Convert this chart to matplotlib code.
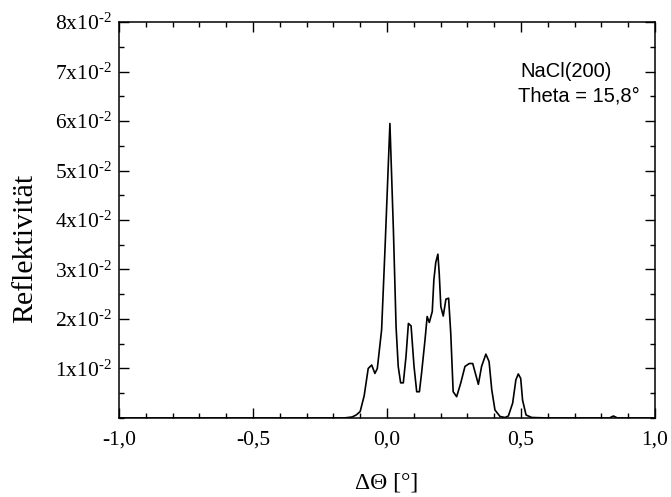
import matplotlib
matplotlib.use("Agg")
import matplotlib.pyplot as plt
from matplotlib.ticker import MultipleLocator, FuncFormatter

# Rocking curve NaCl(200)
dtheta = [
    -1.0, -0.5, -0.16, -0.13, -0.115, -0.10, -0.085, -0.07, -0.057, -0.045,
    -0.036, -0.020, -0.007, 0.011, 0.024, 0.034, 0.042, 0.051, 0.061, 0.071,
    0.080, 0.090, 0.101, 0.111, 0.121, 0.129, 0.142, 0.150, 0.158, 0.169,
    0.175, 0.182, 0.190, 0.195, 0.201, 0.210, 0.220, 0.230, 0.238, 0.247,
    0.260, 0.275, 0.291, 0.307, 0.320, 0.341, 0.353, 0.369, 0.381, 0.391,
    0.403, 0.422, 0.440, 0.453, 0.469, 0.481, 0.490, 0.499, 0.506, 0.519,
    0.540, 0.60, 0.83, 0.845, 0.86, 1.0,
]
refl = [
    0.0, 0.0, 0.0, 0.0002, 0.0006, 0.0013, 0.0045, 0.0100, 0.0107, 0.0090,
    0.0100, 0.0178, 0.0346, 0.0595, 0.0380, 0.0184, 0.0104, 0.0071, 0.0071, 0.0124,
    0.0191, 0.0186, 0.0104, 0.0053, 0.0053, 0.0090, 0.0158, 0.0205, 0.0193, 0.0215,
    0.0279, 0.0314, 0.0331, 0.0292, 0.0225, 0.0206, 0.0240, 0.0242, 0.0171, 0.0053,
    0.0043, 0.0070, 0.0104, 0.0110, 0.0110, 0.0068, 0.0104, 0.0129, 0.0114, 0.0057,
    0.0016, 0.0003, 0.0001, 0.0004, 0.0030, 0.0077, 0.0089, 0.0080, 0.0036, 0.0006,
    0.0001, 0.0, 0.0, 0.0004, 0.0, 0.0,
]

x_ticks = [-1.0, -0.5, 0.0, 0.5, 1.0]
x_ticklabels = ["-1,0", "-0,5", "0,0", "0,5", "1,0"]
y_ticks = [0.01, 0.02, 0.03, 0.04, 0.05, 0.06, 0.07, 0.08]

plt.rcParams["font.family"] = ["Liberation Serif", "DejaVu Serif"]
plt.rcParams["mathtext.fontset"] = "custom"
plt.rcParams["mathtext.rm"] = "Liberation Serif"
plt.rcParams["mathtext.it"] = "Liberation Serif:italic"
plt.rcParams["mathtext.bf"] = "Liberation Serif:bold"

fig = plt.figure(figsize=(6.71, 4.97), dpi=100)
ax = fig.add_axes([0.1773, 0.159, 0.7988, 0.7967])

ax.plot(dtheta, refl, color="black", lw=1.2)

ax.set_xlim(-1.0, 1.0)
ax.set_ylim(0, 0.08)
ax.set_xticks(x_ticks)
ax.set_xticklabels(x_ticklabels)
ax.set_yticks(y_ticks)
ax.yaxis.set_major_formatter(
    FuncFormatter(lambda v, pos: f"{round(v * 100)}x10$^{{\\text{{-2}}}}$"))
ax.xaxis.set_minor_locator(MultipleLocator(0.1))
ax.yaxis.set_minor_locator(MultipleLocator(0.005))

ax.tick_params(which="both", direction="in", top=True, right=True,
               width=1.0, labelsize=15.5)
ax.tick_params(which="major", length=7)
ax.tick_params(axis="x", which="major", pad=9)
ax.tick_params(axis="y", which="major", pad=5)
ax.tick_params(which="minor", length=3.6)
for s in ax.spines.values():
    s.set_linewidth(1.1)

ax.set_xlabel("ΔΘ [°]", fontsize=17)
ax.set_ylabel("Reflektivität", fontsize=21.5)
ax.xaxis.set_label_coords(0.5, -0.164)
ax.xaxis.label.set_verticalalignment("center")
ax.yaxis.set_label_coords(-0.175, 0.429)
ax.yaxis.label.set_verticalalignment("center")

sans = ["Liberation Sans", "DejaVu Sans"]
ax.text(0.748, 0.8745, "NaCl(200)", transform=ax.transAxes,
        ha="left", va="center", fontsize=14.5, family=sans)
ax.text(0.744, 0.814, "Theta = 15,8°", transform=ax.transAxes,
        ha="left", va="center", fontsize=14.5, family=sans)

fig.savefig("out.png", dpi=100)
